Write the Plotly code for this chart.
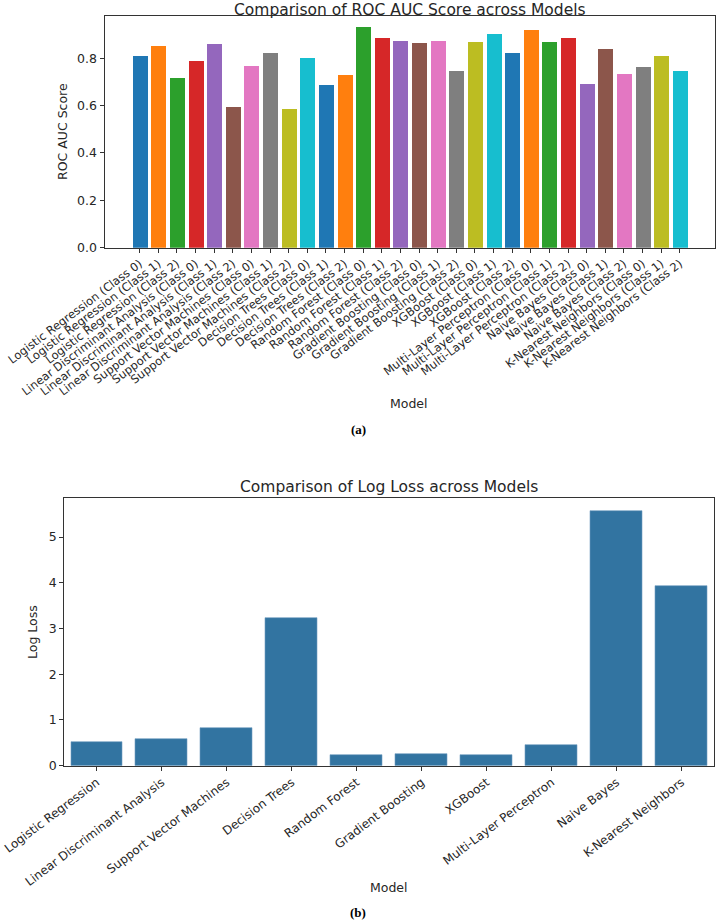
import plotly.graph_objects as go

# ---------- data ----------
roc_models = [
    "Logistic Regression (Class 0)", "Logistic Regression (Class 1)", "Logistic Regression (Class 2)",
    "Linear Discriminant Analysis (Class 0)", "Linear Discriminant Analysis (Class 1)", "Linear Discriminant Analysis (Class 2)",
    "Support Vector Machines (Class 0)", "Support Vector Machines (Class 1)", "Support Vector Machines (Class 2)",
    "Decision Trees (Class 0)", "Decision Trees (Class 1)", "Decision Trees (Class 2)",
    "Random Forest (Class 0)", "Random Forest (Class 1)", "Random Forest (Class 2)",
    "Gradient Boosting (Class 0)", "Gradient Boosting (Class 1)", "Gradient Boosting (Class 2)",
    "XGBoost (Class 0)", "XGBoost (Class 1)", "XGBoost (Class 2)",
    "Multi-Layer Perceptron (Class 0)", "Multi-Layer Perceptron (Class 1)", "Multi-Layer Perceptron (Class 2)",
    "Naive Bayes (Class 0)", "Naive Bayes (Class 1)", "Naive Bayes (Class 2)",
    "K-Nearest Neighbors (Class 0)", "K-Nearest Neighbors (Class 1)", "K-Nearest Neighbors (Class 2)",
]
roc_auc = [0.810, 0.852, 0.717, 0.787, 0.861, 0.596, 0.766, 0.823, 0.585, 0.801,
           0.686, 0.728, 0.932, 0.886, 0.872, 0.865, 0.872, 0.746, 0.868, 0.901,
           0.821, 0.920, 0.868, 0.886, 0.693, 0.841, 0.732, 0.762, 0.810, 0.745]

loss_models = ["Logistic Regression", "Linear Discriminant Analysis", "Support Vector Machines",
               "Decision Trees", "Random Forest", "Gradient Boosting", "XGBoost",
               "Multi-Layer Perceptron", "Naive Bayes", "K-Nearest Neighbors"]
log_loss = [0.525, 0.583, 0.831, 3.229, 0.226, 0.255, 0.233, 0.445, 5.576, 3.929]

roc_yticks = [0.0, 0.2, 0.4, 0.6, 0.8]
loss_yticks = [0, 1, 2, 3, 4, 5]

tab10 = ["#1f77b4", "#ff7f0e", "#2ca02c", "#d62728", "#9467bd",
         "#8c564b", "#e377c2", "#7f7f7f", "#bcbd22", "#17becf"]

W, H = 717, 924
TXT = "#262626"
FONT = "DejaVu Sans"
LAB = 12.5
TITLE = 15.5


def px_x(x):
    return x / W


def px_y(y):
    return (H - y) / H


fig = go.Figure()
fig.add_trace(go.Bar(
    x=roc_models, y=roc_auc, width=0.8,
    marker=dict(color=[tab10[i % 10] for i in range(len(roc_auc))], line=dict(width=0)),
    xaxis="x", yaxis="y", showlegend=False,
))
fig.add_trace(go.Bar(
    x=loss_models, y=log_loss, width=0.8,
    marker=dict(color="#3274a1", line=dict(width=0.6, color="#6f9cc0")),
    xaxis="x2", yaxis="y2", showlegend=False,
))


def axis_common(size):
    return dict(showline=True, linecolor="#333333", linewidth=1, mirror=True,
                ticks="outside", ticklen=4, tickcolor="#333333", showgrid=False,
                zeroline=False, automargin=False,
                tickfont=dict(family=FONT, size=size, color=TXT))


n1 = len(roc_models)
n2 = len(loss_models)
fig.update_layout(
    width=W, height=H, margin=dict(l=0, r=0, t=0, b=0),
    paper_bgcolor="white", plot_bgcolor="white", bargap=0,
    xaxis=dict(domain=[px_x(104.5), px_x(715)], anchor="y", tickangle=-37,
               tickmode="linear", tick0=0, dtick=1,
               range=[-0.4 - 0.05 * (n1 - 0.2), n1 - 0.6 + 0.05 * (n1 - 0.2)], **axis_common(11.5)),
    yaxis=dict(domain=[px_y(247.7), px_y(16)], anchor="x",
               range=[0, max(roc_auc) * 1.05], tickvals=roc_yticks,
               ticktext=[f"{v:.1f}" for v in roc_yticks], **axis_common(12.5)),
    xaxis2=dict(domain=[px_x(64.3), px_x(714.2)], anchor="y2", tickangle=-37,
                tickmode="linear", tick0=0, dtick=1,
                range=[-0.5, n2 - 0.5], **axis_common(12)),
    yaxis2=dict(domain=[px_y(765.7), px_y(498)], anchor="x2",
                range=[0, max(log_loss) * 1.05], tickvals=loss_yticks, **axis_common(12.5)),
)

annots = [
    dict(text="ROC AUC Score", x=px_x(62), y=px_y(132), size=LAB, textangle=-90),
    dict(text="Model", x=px_x(409), y=px_y(403), size=LAB),
    dict(text="Comparison of Log Loss across Models", x=px_x(389), y=px_y(487), size=TITLE),
    dict(text="Log Loss", x=px_x(33), y=px_y(632), size=LAB, textangle=-90),
    dict(text="Model", x=px_x(389), y=px_y(887), size=LAB),
]
for a in annots:
    fig.add_annotation(text=a["text"], x=a["x"], y=a["y"], xref="paper", yref="paper",
                       xanchor="center", yanchor="middle", showarrow=False,
                       textangle=a.get("textangle", 0),
                       font=dict(family=FONT, size=a["size"], color=TXT))

fig.add_annotation(text="Comparison of ROC AUC Score across Models", x=px_x(410), y=1.0,
                   xref="paper", yref="paper", xanchor="center", yanchor="top",
                   showarrow=False, borderpad=0,
                   font=dict(family=FONT, size=TITLE, color=TXT))

for lab, y in [("(a)", 430), ("(b)", 912)]:
    fig.add_annotation(text=f"<b>{lab}</b>", x=px_x(358), y=px_y(y), xref="paper", yref="paper",
                       xanchor="center", yanchor="middle", showarrow=False,
                       font=dict(family="Liberation Serif", size=13, color="black"))

fig.write_html("out.html")
